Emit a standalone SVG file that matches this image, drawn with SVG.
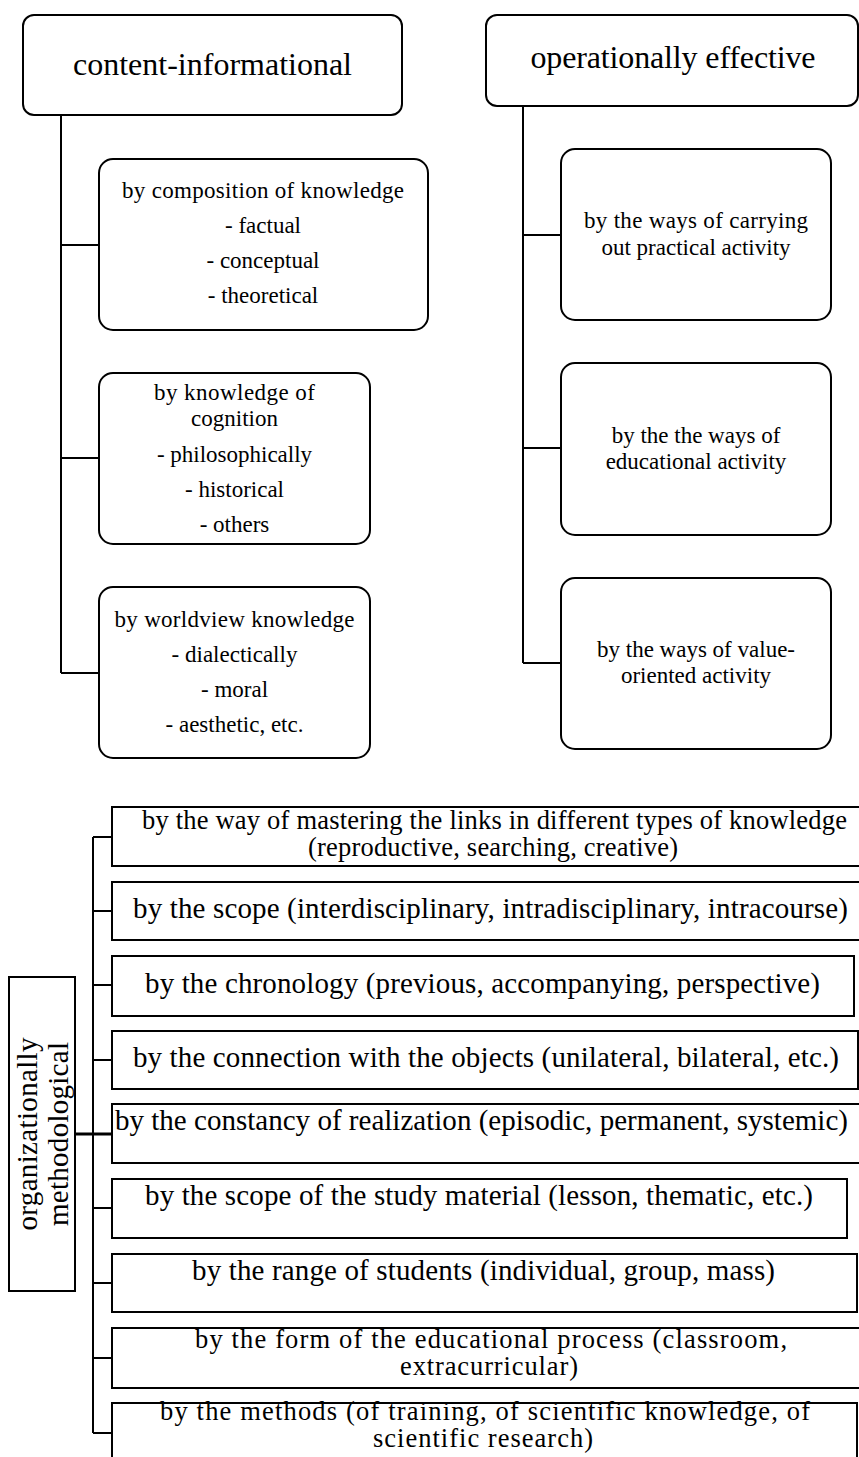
<svg xmlns="http://www.w3.org/2000/svg" width="859" height="1457" viewBox="0 0 859 1457">
<style>
  .box { fill: #ffffff; stroke: #000000; stroke-width: 2; }
  .conn { fill: none; stroke: #000000; stroke-width: 2; }
  .t { fill: #000000; text-anchor: middle; font-family: "Liberation Serif", "Times New Roman", serif; }
  .hdr { font-size: 32px; }
  .sub { font-size: 23px; }
  .lst { font-size: 29px; }
  .lst2 { font-size: 26.5px; }
</style>
<rect x="0" y="0" width="859" height="1457" fill="#ffffff"/>

<g id="connectors">
  <path class="conn" d="M61 115 V673 M61 245 H99 M61 458 H99 M61 673 H99"/>
  <path class="conn" d="M523 106 V663 M523 235 H561 M523 448 H561 M523 663 H561"/>
  <path class="conn" d="M93 837 V1433 M93 837 H112 M93 911 H112 M93 985 H112 M93 1060 H112 M93 1208 H112 M93 1283 H112 M93 1358 H112 M93 1433 H112"/>
  <path class="conn" style="stroke-width:3" d="M75 1134 H112"/>
</g>

<g id="content-informational">
  <rect class="box" x="23" y="15" width="379" height="100" rx="11"/>
  <text class="t hdr" x="212.5" y="75" textLength="279">content-informational</text>
</g>
<g id="operationally-effective">
  <rect class="box" x="486" y="15" width="372" height="91" rx="11"/>
  <text class="t hdr" x="673" y="68" textLength="285">operationally effective</text>
</g>

<g id="composition">
  <rect class="box" x="99" y="159" width="329" height="171" rx="14"/>
  <text class="t sub" x="263" y="198" textLength="282">by composition of knowledge</text>
  <text class="t sub" x="263" y="233">- factual</text>
  <text class="t sub" x="263" y="268">- conceptual</text>
  <text class="t sub" x="263" y="303">- theoretical</text>
</g>
<g id="cognition">
  <rect class="box" x="99" y="373" width="271" height="171" rx="14"/>
  <text class="t sub" x="234.5" y="400" textLength="161">by knowledge  of</text>
  <text class="t sub" x="234.5" y="426">cognition</text>
  <text class="t sub" x="234.5" y="462">- philosophically</text>
  <text class="t sub" x="234.5" y="497">- historical</text>
  <text class="t sub" x="234.5" y="532">- others</text>
</g>
<g id="worldview">
  <rect class="box" x="99" y="587" width="271" height="171" rx="14"/>
  <text class="t sub" x="234.5" y="627" textLength="240">by worldview  knowledge</text>
  <text class="t sub" x="234.5" y="662">- dialectically</text>
  <text class="t sub" x="234.5" y="697">- moral</text>
  <text class="t sub" x="234.5" y="732">- aesthetic, etc.</text>
</g>

<g id="practical">
  <rect class="box" x="561" y="149" width="270" height="171" rx="14"/>
  <text class="t sub" x="696" y="228" textLength="224">by the ways of carrying</text>
  <text class="t sub" x="696" y="255">out practical activity</text>
</g>
<g id="educational">
  <rect class="box" x="561" y="363" width="270" height="172" rx="14"/>
  <text class="t sub" x="696" y="443">by the the ways of</text>
  <text class="t sub" x="696" y="469">educational activity</text>
</g>
<g id="value-oriented">
  <rect class="box" x="561" y="578" width="270" height="171" rx="14"/>
  <text class="t sub" x="696" y="657">by the ways of value-</text>
  <text class="t sub" x="696" y="683">oriented activity</text>
</g>

<g id="organizationally-methodological">
  <rect class="box" x="9" y="977" width="66" height="314"/>
  <text class="t lst" transform="translate(37,1134) rotate(-90)" textLength="193">organizationally</text>
  <text class="t lst" transform="translate(68,1134) rotate(-90)" textLength="184">methodological</text>
</g>

<g id="row1">
  <rect class="box" x="112" y="807" width="750" height="59"/>
  <text class="t lst2" x="494.5" y="829" textLength="705">by the way of mastering the links in different types of knowledge</text>
  <text class="t lst2" x="493" y="856" textLength="370">(reproductive, searching, creative)</text>
</g>
<g id="row2">
  <rect class="box" x="112" y="882" width="750" height="58"/>
  <text class="t lst" x="490.5" y="918" textLength="715">by the scope (interdisciplinary,  intradisciplinary,  intracourse)</text>
</g>
<g id="row3">
  <rect class="box" x="112" y="956" width="742" height="60"/>
  <text class="t lst" x="482.5" y="993" textLength="675">by the chronology (previous, accompanying, perspective)</text>
</g>
<g id="row4">
  <rect class="box" x="112" y="1031" width="746" height="58"/>
  <text class="t lst" x="486" y="1067" textLength="706">by the connection with the objects (unilateral, bilateral, etc.)</text>
</g>
<g id="row5">
  <rect class="box" x="112" y="1104" width="750" height="59"/>
  <text class="t lst" x="481.5" y="1130" textLength="733">by the constancy of realization  (episodic, permanent, systemic)</text>
</g>
<g id="row6">
  <rect class="box" x="112" y="1179" width="735" height="59"/>
  <text class="t lst" x="479" y="1205" textLength="668">by the scope of the study material (lesson, thematic, etc.)</text>
</g>
<g id="row7">
  <rect class="box" x="112" y="1254" width="745" height="58"/>
  <text class="t lst" x="483.5" y="1280" textLength="583">by the range of students (individual, group, mass)</text>
</g>
<g id="row8">
  <rect class="box" x="112" y="1328" width="750" height="60"/>
  <text class="t lst2" x="491" y="1348" textLength="592">by the form of the educational process (classroom,</text>
  <text class="t lst2" x="489" y="1375" textLength="178">extracurricular)</text>
</g>
<g id="row9">
  <rect class="box" x="112" y="1403" width="745" height="70"/>
  <text class="t lst2" x="485" y="1420" textLength="650">by the methods (of training, of scientific knowledge, of</text>
  <text class="t lst2" x="483" y="1447" textLength="220">scientific research)</text>
</g>
</svg>
